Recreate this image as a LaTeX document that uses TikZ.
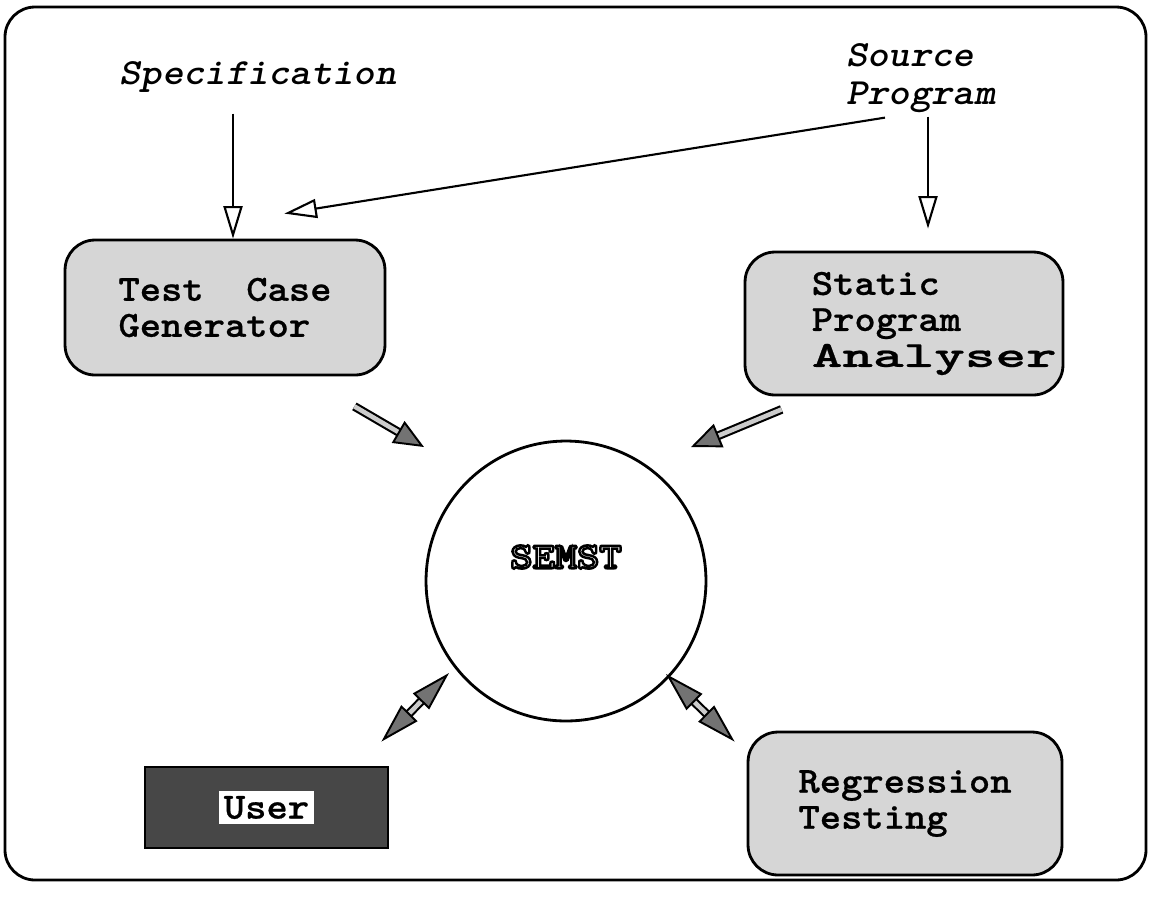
\documentclass[tikz,border=0pt]{standalone}
\usepackage{fontspec}
\newfontfamily\boxfont{lmmonolt10-bold.otf}[FakeStretch=1.1, FakeBold=0.6]
\newfontfamily\wideboxfont{lmmonolt10-bold.otf}[FakeStretch=1.58, FakeBold=0.6]
\newfontfamily\semstfont{lmmonolt10-bold.otf}[FakeStretch=1.15]
\newfontfamily\inputfont{lmmonolt10-boldoblique.otf}[FakeStretch=1.1]
\newcommand\outlined[1]{\special{pdf:code q 1 Tr 1.4 w}#1\special{pdf:code Q}}
\usetikzlibrary{arrows.meta}

\tikzset{
  fathead/.tip={Triangle[fill=black!55, width=0.5cm, length=0.6cm, line width=1.1pt]},
  bighead/.tip={Triangle[fill=black!55, width=0.45cm, length=0.8cm, line width=1.1pt]}
}

\begin{document}
\begin{tikzpicture}[x=0.02cm, y=-0.02cm,
  box/.style={draw, line width=1.6pt, fill=black!16, rounded corners=0.6cm, inner sep=0pt},
  boxtext/.style={font=\boxfont\fontsize{21}{20.5}\selectfont, align=left},
  input/.style={font=\inputfont\fontsize{21}{22}\selectfont, align=left},
  feed/.style={line width=1.2pt, -{Triangle[open, fill=white, width=0.38cm, length=0.65cm]}},
  fat/.style={draw, line width=1.2pt, double=black!20, double distance=2.6pt}]
  \useasboundingbox (0,0) rectangle (1149,897);
  \draw[line width=1.6pt, rounded corners=0.6cm] (5,7) rectangle (1146,880);

  % Inputs
  \node[input] (spec) at (258,77) {Specification};
  \node[input, anchor=west] (src) at (840,78) {Source\\Program};

  % Tools
  \node[box, boxtext, minimum width=6.4cm, minimum height=2.7cm] (tcg) at (225,307.5) {Test~~Case\\Generator};
  \node[box, minimum width=6.36cm, minimum height=2.86cm] (spa) at (904,323.5) {};
  \node[boxtext, anchor=west] at ([xshift=1.24cm]spa.west)
    {Static\\Program\\{\wideboxfont Analyser}};
  \node[box, boxtext, minimum width=6.28cm, minimum height=2.86cm] (reg) at (905,803.5) {Regression\\Testing};
  \node[draw, line width=1.6pt, fill=black!72, minimum width=4.86cm, minimum height=1.62cm] (user) at (266.5,807.5)
    {\colorbox{white}{\boxfont\fontsize{21}{20}\selectfont User}};
  \node[draw, circle, line width=1.6pt, minimum size=5.6cm,
    label={[font=\semstfont\fontsize{21}{21}\selectfont, yshift=0.48cm]center:\outlined{SEMST}}] (semst) at (566,581) {};

  % Feeds
  \draw[feed] ([shift={(8,-125)}]tcg.north) -- ([shift={(8,0)}]tcg.north);
  \draw[feed] ([shift={(24,-134)}]spa.north) -- ([shift={(24,-22)}]spa.north);
  \draw[feed] ([shift={(-19,-133)}]spa.north) -- ([shift={(-102,-25)}]tcg.north east);

  % Links to SEMST
  \draw[fat, -fathead] ([shift={(-32,30)}]tcg.south east) -- ([shift={(-42,-34)}]semst.north west);
  \draw[fat, -fathead] ([shift={(38,13)}]spa.south west) -- ([shift={(25,-34)}]semst.north east);
  \draw[fat, bighead-bighead] ([shift={(-17,-8)}]semst.south west) -- ([shift={(-8,-24)}]user.north east);
  \draw[fat, bighead-bighead] ([shift={(0,-7)}]semst.south east) -- ([shift={(-12,11)}]reg.north west);
\end{tikzpicture}
\end{document}
